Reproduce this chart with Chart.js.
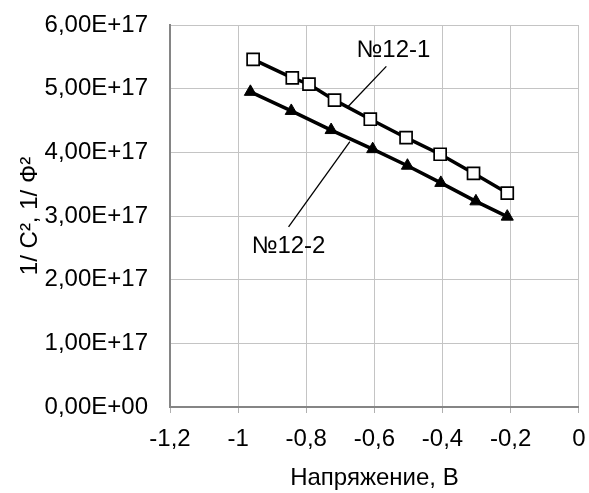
<!DOCTYPE html>
<html>
<head>
<meta charset="utf-8">
<script src="https://cdn.jsdelivr.net/npm/chart.js@4"></script>
<style>
  html, body { margin: 0; padding: 0; background: #fff; }
  #wrap { width: 589px; height: 493px; }
</style>
</head>
<body>
<div id="wrap"><canvas id="chart"></canvas></div>
<script>
const FONT = "'Liberation Sans', Arial, sans-serif";

// Series №12-1 (squares)
const voltage1 = [-0.956, -0.841, -0.792, -0.717, -0.612, -0.507, -0.407, -0.309, -0.21];
const invC1 = [5.46e17, 5.17e17, 5.07e17, 4.82e17, 4.52e17, 4.23e17, 3.97e17, 3.67e17, 3.36e17];

// Series №12-2 (triangles)
const voltage2 = [-0.964, -0.844, -0.727, -0.605, -0.503, -0.405, -0.302, -0.21];
const invC2 = [4.95e17, 4.65e17, 4.35e17, 4.05e17, 3.79e17, 3.52e17, 3.23e17, 2.99e17];

// Callout labels and their leader lines (data units)
const calloutNames = ["№12-1", "№12-2"];
const calloutTextX = [-0.544, -0.852];
const calloutTextY = [5.60e17, 2.53e17];
const leader1X = [-0.565, -0.677];
const leader1Y = [5.35e17, 4.72e17];
const leader2X = [-0.852, -0.672];
const leader2Y = [2.83e17, 4.17e17];

const toPts = (xs, ys) => xs.map((x, i) => ({ x: x, y: ys[i] }));

const calloutPlugin = {
  id: "callouts",
  afterDatasetsDraw(chart) {
    const ctx = chart.ctx;
    const xs = chart.scales.x;
    const ys = chart.scales.y;
    ctx.save();
    ctx.font = "24px " + FONT;
    ctx.fillStyle = "#000";
    ctx.textAlign = "center";
    ctx.textBaseline = "middle";
    calloutNames.forEach((name, i) => {
      ctx.fillText(name, xs.getPixelForValue(calloutTextX[i]), ys.getPixelForValue(calloutTextY[i]));
    });
    ctx.restore();
  },
};

new Chart(document.getElementById("chart"), {
  type: "scatter",
  data: {
    datasets: [
      {
        data: toPts(leader1X, leader1Y),
        showLine: true,
        borderColor: "#000",
        borderWidth: 1.3,
        pointRadius: 0,
      },
      {
        data: toPts(leader2X, leader2Y),
        showLine: true,
        borderColor: "#000",
        borderWidth: 1.3,
        pointRadius: 0,
      },
      {
        label: "№12-1",
        data: toPts(voltage1, invC1),
        showLine: true,
        borderColor: "#000",
        borderWidth: 3.5,
        pointStyle: "rect",
        pointRadius: 8.5,
        pointBackgroundColor: "#fff",
        pointBorderColor: "#000",
        pointBorderWidth: 1.7,
      },
      {
        label: "№12-2",
        data: toPts(voltage2, invC2),
        showLine: true,
        borderColor: "#000",
        borderWidth: 3.5,
        pointStyle: "triangle",
        pointRadius: 7,
        pointBackgroundColor: "#000",
        pointBorderColor: "#000",
        pointBorderWidth: 1,
      },
    ],
  },
  options: {
    responsive: true,
    maintainAspectRatio: false,
    animation: false,
    layout: { padding: { left: 0, right: 9, top: 25, bottom: 0 } },
    plugins: {
      legend: { display: false },
      tooltip: { enabled: false },
    },
    scales: {
      x: {
        type: "linear",
        min: -1.2,
        max: 0,
        afterFit: (s) => {
          s.height = 86;
          s.paddingLeft = 0;
          s.paddingRight = 0;
        },
        ticks: {
          stepSize: 0.2,
          padding: 12,
          color: "#000",
          font: { family: FONT, size: 24 },
          callback: (v) => {
            const r = Math.round(v * 10) / 10;
            return (r === 0 ? "0" : String(r)).replace(".", ",");
          },
        },
        grid: {
          color: "#c4c4c4",
          lineWidth: 1,
          tickLength: 6,
          tickColor: "#b0b0b0",
        },
        border: { color: "#858585", width: 2 },
        title: {
          display: true,
          text: "Напряжение, В",
          color: "#000",
          font: { family: FONT, size: 24 },
          padding: { top: -2, bottom: 0 },
        },
      },
      y: {
        min: 0,
        max: 6e17,
        afterFit: (s) => {
          s.width = 170;
          s.paddingTop = 0;
          s.paddingBottom = 0;
        },
        ticks: {
          stepSize: 1e17,
          padding: 22,
          color: "#000",
          font: { family: FONT, size: 24 },
          callback: (v) => {
            const m = v / 1e17;
            return m === 0 ? "0,00E+00" : m.toFixed(2).replace(".", ",") + "E+17";
          },
        },
        grid: {
          color: "#c4c4c4",
          lineWidth: 1,
          drawTicks: false,
        },
        border: { color: "#858585", width: 2 },
        title: {
          display: true,
          text: "1/ C², 1/ Ф²",
          color: "#000",
          font: { family: FONT, size: 24 },
          padding: { top: 16, bottom: 0 },
        },
      },
    },
  },
  plugins: [calloutPlugin],
});
</script>
</body>
</html>
